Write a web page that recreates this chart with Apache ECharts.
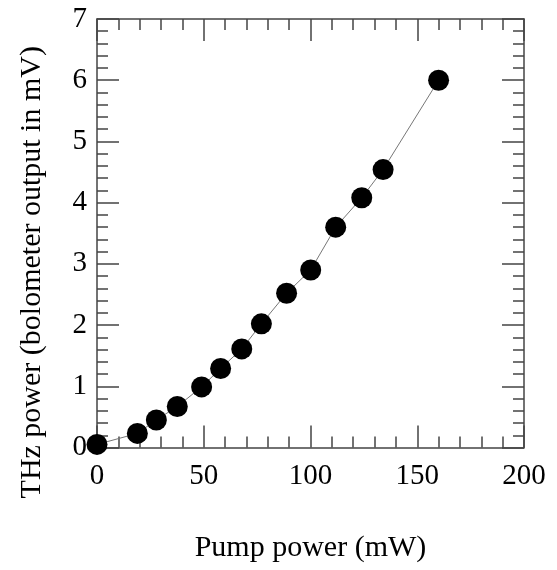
<!DOCTYPE html>
<html>
<head>
<meta charset="utf-8">
<script src="https://cdn.jsdelivr.net/npm/echarts@6/dist/echarts.min.js"></script>
<style>
html,body{margin:0;padding:0;background:#fff;}
#c{width:557px;height:570px;}
</style>
</head>
<body>
<div id="c"></div>
<script>
const pumpPower = [0, 18.9, 27.8, 37.6, 49.0, 57.9, 67.8, 77.0, 88.8, 100.1, 111.8, 124.0, 134.0, 160.0];
const thzPower  = [0.05, 0.23, 0.45, 0.67, 0.99, 1.29, 1.61, 2.02, 2.52, 2.90, 3.60, 4.08, 4.54, 6.0];
const xTitle = 'Pump power (mW)';
const yTitle = 'THz power (bolometer output in mV)';

const font = 'Liberation Serif, Times New Roman, serif';
const axisColor = '#444';
const points = pumpPower.map((x, i) => [x, thzPower[i]]);

function baseAxis(extra) {
  return Object.assign({
    type: 'value',
    axisLine: { show: true, onZero: false, lineStyle: { color: axisColor, width: 1.5 } },
    axisTick: { show: true, inside: true, length: 22, lineStyle: { color: axisColor, width: 1.5 } },
    minorTick: { show: true, splitNumber: 5, length: 11, lineStyle: { color: axisColor, width: 1.5 } },
    splitLine: { show: false },
    minorSplitLine: { show: false }
  }, extra);
}

const chart = echarts.init(document.getElementById('c'), null, { renderer: 'canvas' });
chart.setOption({
  backgroundColor: '#fff',
  animation: false,
  grid: { left: 97, right: 33, top: 19, bottom: 122.5 },
  xAxis: [
    baseAxis({
      position: 'bottom', min: 0, max: 200, interval: 50,
      axisLabel: { fontFamily: font, fontSize: 29, color: '#000', margin: 14 },
      name: xTitle, nameLocation: 'middle', nameGap: 86,
      nameTextStyle: { fontFamily: font, fontSize: 30, color: '#000' }
    }),
    baseAxis({
      position: 'top', min: 0, max: 200, interval: 50,
      axisLabel: { show: false }
    })
  ],
  yAxis: [
    baseAxis({
      position: 'left', min: 0, max: 7, interval: 1,
      axisLabel: { fontFamily: font, fontSize: 29, color: '#000', margin: 10 },
      name: yTitle, nameLocation: 'middle', nameGap: 50, nameRotate: 90,
      nameTextStyle: { fontFamily: font, fontSize: 30, color: '#000', padding: [0, 78, 0, 0] }
    }),
    baseAxis({
      position: 'right', min: 0, max: 7, interval: 1,
      axisLabel: { show: false }
    })
  ],
  series: [
    {
      type: 'line',
      data: points,
      symbol: 'none',
      lineStyle: { color: '#777', width: 1 },
      z: 2
    },
    {
      type: 'scatter',
      data: points,
      symbol: 'circle',
      symbolSize: 21,
      itemStyle: { color: '#000', opacity: 1 },
      z: 3
    }
  ]
});
</script>
</body>
</html>
